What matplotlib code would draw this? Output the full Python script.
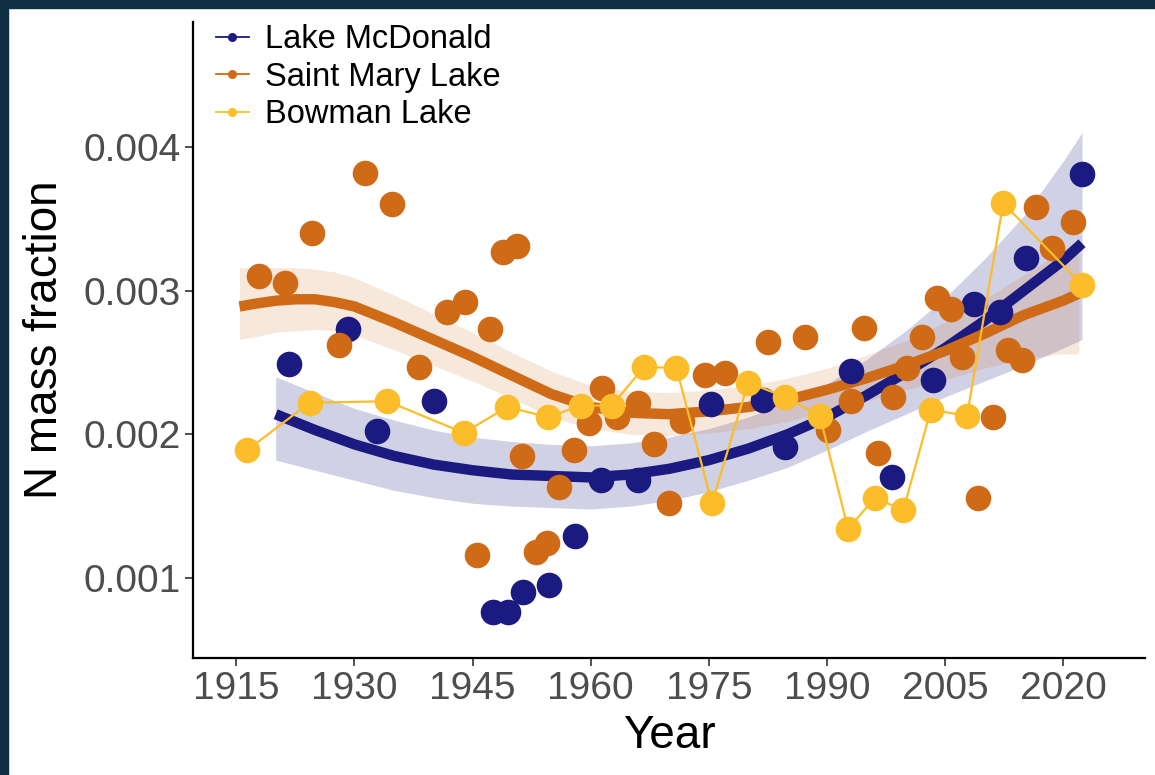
import numpy as np
import matplotlib
matplotlib.use("Agg")
import matplotlib.pyplot as plt
from matplotlib.lines import Line2D
from matplotlib.patches import Rectangle

plt.rcParams["font.family"] = ["Liberation Sans", "DejaVu Sans"]

# ---- observations -----------------------------------------------------
mcd_year = [1921.7, 1929.2, 1932.9, 1940.1, 1947.6, 1949.5, 1951.4, 1954.7,
            1958.0, 1961.3, 1966.0, 1975.3, 1981.9, 1984.7, 1993.1, 1998.3,
            2003.5, 2008.7, 2012.0, 2015.3, 2022.4]
mcd_n = [0.00249, 0.00273, 0.00202, 0.00223, 0.00076, 0.00076, 0.00090, 0.00095,
         0.00129, 0.00168, 0.00168, 0.00221, 0.00224, 0.00191, 0.00244, 0.00170,
         0.00238, 0.00291, 0.00285, 0.00323, 0.00381]

stm_year = [1917.9, 1921.2, 1924.6, 1928.1, 1931.4, 1934.8, 1938.2, 1941.7,
            1944.1, 1945.6, 1947.2, 1948.9, 1950.6, 1951.3, 1953.0, 1954.5,
            1956.0, 1957.9, 1959.8, 1961.5, 1963.4, 1966.0, 1968.1, 1969.9,
            1971.6, 1974.5, 1977.1, 1982.5, 1987.2, 1990.2, 1993.0, 1994.7,
            1996.5, 1998.4, 2000.2, 2002.1, 2004.0, 2005.7, 2007.2, 2009.2,
            2011.1, 2013.0, 2014.8, 2016.6, 2018.6, 2021.3]
stm_n = [0.00310, 0.00305, 0.00340, 0.00262, 0.00382, 0.00360, 0.00247, 0.00285,
         0.00292, 0.00116, 0.00273, 0.00327, 0.00331, 0.00185, 0.00118, 0.00124,
         0.00163, 0.00189, 0.00208, 0.00232, 0.00212, 0.00222, 0.00193, 0.00152,
         0.00209, 0.00241, 0.00243, 0.00264, 0.00268, 0.00203, 0.00223, 0.00274,
         0.00187, 0.00226, 0.00246, 0.00268, 0.00295, 0.00287, 0.00254, 0.00156,
         0.00212, 0.00259, 0.00252, 0.00358, 0.00330, 0.00348]

bow_year = [1916.4, 1924.3, 1934.2, 1943.9, 1949.4, 1954.6, 1958.8, 1962.7,
            1966.8, 1970.9, 1975.4, 1980.0, 1984.7, 1989.1, 1992.7, 1996.1,
            1999.7, 2003.2, 2007.8, 2012.4, 2022.4]
bow_n = [0.00189, 0.00222, 0.00223, 0.00201, 0.00219, 0.00212, 0.00220, 0.00220,
         0.00247, 0.00246, 0.00152, 0.00236, 0.00226, 0.00213, 0.00134, 0.00156,
         0.00147, 0.00217, 0.00213, 0.00361, 0.00304]

# ---- fitted trends with 95% confidence limits -------------------------
mcd_trend_year = [1920, 1925, 1930, 1935, 1940, 1945, 1950, 1955, 1960, 1965, 1970,
                  1975, 1980, 1985, 1990, 1995, 2000, 2005, 2010, 2015, 2020, 2022.4]
mcd_trend = [0.00214, 0.00203, 0.00193, 0.00185, 0.00179, 0.00175, 0.00172, 0.00171,
             0.00170, 0.00172, 0.00176, 0.00182, 0.00190, 0.00200, 0.00212, 0.00227,
             0.00243, 0.00260, 0.00279, 0.00300, 0.00321, 0.00333]
mcd_upper = [0.00240, 0.00229, 0.00218, 0.00210, 0.00203, 0.00198, 0.00195, 0.00193,
             0.00192, 0.00194, 0.00198, 0.00204, 0.00212, 0.00222, 0.00235, 0.00252,
             0.00272, 0.00295, 0.00322, 0.00352, 0.00390, 0.00410]
mcd_lower = [0.00182, 0.00175, 0.00168, 0.00161, 0.00156, 0.00152, 0.00150, 0.00149,
             0.00148, 0.00150, 0.00154, 0.00160, 0.00168, 0.00177, 0.00189, 0.00202,
             0.00214, 0.00226, 0.00237, 0.00248, 0.00260, 0.00266]

stm_trend_year = [1915.4, 1917.5, 1920, 1922.5, 1925, 1927.5, 1930, 1935, 1940, 1945,
                  1950, 1955, 1960, 1965, 1970, 1975, 1980, 1985, 1990, 1995, 2000,
                  2005, 2010, 2015, 2020, 2022]
stm_trend = [0.00289, 0.00291, 0.00293, 0.00294, 0.00294, 0.00292, 0.00289, 0.00278,
             0.00266, 0.00254, 0.00241, 0.00228, 0.00219, 0.00215, 0.00214, 0.00216,
             0.00219, 0.00224, 0.00231, 0.00239, 0.00248, 0.00258, 0.00270, 0.00283,
             0.00293, 0.00298]
stm_upper = [0.00316, 0.00316, 0.00316, 0.00316, 0.00315, 0.00313, 0.00309, 0.00297,
             0.00284, 0.00271, 0.00257, 0.00244, 0.00234, 0.00230, 0.00229, 0.00231,
             0.00234, 0.00239, 0.00246, 0.00255, 0.00265, 0.00278, 0.00294, 0.00311,
             0.00328, 0.00336]
stm_lower = [0.00266, 0.00268, 0.00271, 0.00272, 0.00273, 0.00272, 0.00269, 0.00259,
             0.00248, 0.00237, 0.00225, 0.00212, 0.00204, 0.00200, 0.00199, 0.00201,
             0.00204, 0.00209, 0.00216, 0.00223, 0.00231, 0.00238, 0.00246, 0.00253,
             0.00256, 0.00256]

lake_names = ["Lake McDonald", "Saint Mary Lake", "Bowman Lake"]
lake_colors = ["#1a1a80", "#cf6a17", "#fbbd2a"]

year_ticks = [1915, 1930, 1945, 1960, 1975, 1990, 2005, 2020]
n_ticks = [0.001, 0.002, 0.003, 0.004]

# ---- figure -----------------------------------------------------------
W, H = 1155, 775
fig = plt.figure(figsize=(W / 100, H / 100), dpi=100)
fig.patch.set_facecolor("white")

# dark frame strips on the top and left edges
fig.patches.append(Rectangle((0, 1 - 8 / H), 1, 8 / H, transform=fig.transFigure,
                             color="#0e2f44", zorder=-1))
fig.patches.append(Rectangle((0, 0), 8 / W, 1, transform=fig.transFigure,
                             color="#0e2f44", zorder=-1))

ax = fig.add_axes([193 / W, 1 - 658 / H, (1145 - 193) / W, (658 - 22) / H])
ax.set_xlim(1909.5, 2030.4)
ax.set_ylim(0.000443, 0.00487)

# confidence ribbons, then trend lines
ax.fill_between(mcd_trend_year, mcd_lower, mcd_upper, color=lake_colors[0],
                alpha=0.20, lw=0, zorder=1)
ax.fill_between(stm_trend_year, stm_lower, stm_upper, color=lake_colors[1],
                alpha=0.15, lw=0, zorder=1)
ax.plot(mcd_trend_year, mcd_trend, color=lake_colors[0], lw=7.5,
        solid_capstyle="butt", solid_joinstyle="round", zorder=2)
ax.plot(stm_trend_year, stm_trend, color=lake_colors[1], lw=7.5,
        solid_capstyle="butt", solid_joinstyle="round", zorder=2)

# observations
ax.scatter(mcd_year, mcd_n, s=340, color=lake_colors[0], lw=0, zorder=3)
ax.scatter(stm_year, stm_n, s=340, color=lake_colors[1], lw=0, zorder=4)
ax.plot(bow_year, bow_n, color=lake_colors[2], lw=1.6, zorder=5)
ax.scatter(bow_year, bow_n, s=340, color=lake_colors[2], lw=0, zorder=5)

# axes styling
for side in ("top", "right"):
    ax.spines[side].set_visible(False)
for side in ("left", "bottom"):
    ax.spines[side].set_linewidth(1.6)
    ax.spines[side].set_color("black")
ax.set_xticks(year_ticks)
ax.set_yticks(n_ticks)
ax.set_yticklabels([f"{v:.3f}" for v in n_ticks])
ax.tick_params(axis="both", length=5.5, width=1.2, color="#333333",
               labelcolor="#4d4d4d", labelsize=28)
ax.tick_params(axis="x", pad=4)
ax.tick_params(axis="y", pad=3)
ax.set_xlabel("Year", fontsize=33, color="black", labelpad=5)
ax.set_ylabel("N mass fraction", fontsize=33, color="black", labelpad=12)

handles = [Line2D([], [], color=c, lw=1.3, marker="o", markersize=5.5)
           for c in lake_colors]
ax.legend(handles, lake_names, loc="upper left", bbox_to_anchor=(216 / W, 1 - 24 / H),
          bbox_transform=fig.transFigure, frameon=False, fontsize=23.5,
          handlelength=1.0, handletextpad=0.5, labelspacing=0.2,
          borderaxespad=0, borderpad=0)

fig.savefig("out.png", dpi=100, facecolor="white")
